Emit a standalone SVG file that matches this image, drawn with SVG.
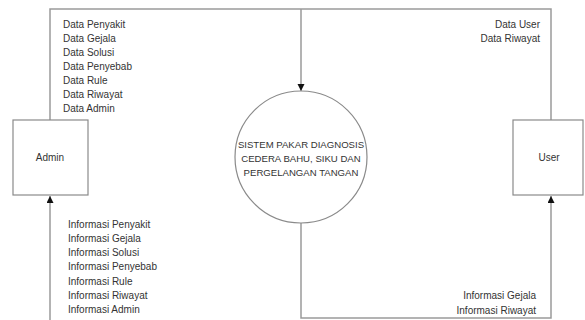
<svg xmlns="http://www.w3.org/2000/svg" width="585" height="320" viewBox="0 0 585 320">
<style>
.ln{fill:none;stroke:#9a9a9a;stroke-width:1.5}
.bx{fill:#fff;stroke:#8a8a8a;stroke-width:1.2}
.t{font-family:"Liberation Sans",Arial,sans-serif;font-size:10px;fill:#333}
.c{font-family:"Liberation Sans",Arial,sans-serif;font-size:9.6px;fill:#333;text-anchor:middle}
</style>
<defs>
<marker id="ah" markerWidth="7" markerHeight="10" refX="7" refY="3.5" orient="auto" markerUnits="userSpaceOnUse">
<path d="M0,0 L7,3.5 L0,7 z" fill="#111"/>
</marker>
</defs>
<rect width="585" height="320" fill="#fff"/>
<g id="connectors">
<polyline class="ln" points="50,120 50,9 551,9 551,120"/>
<line class="ln" x1="301" y1="9" x2="301" y2="91" marker-end="url(#ah)"/>
<polyline class="ln" points="301,223 301,318 551,318 551,196" marker-end="url(#ah)"/>
<line class="ln" x1="50" y1="325" x2="50" y2="196" marker-end="url(#ah)"/>
</g>
<g id="labels">
<text class="t" x="63" y="28">Data Penyakit</text>
<text class="t" x="63" y="42">Data Gejala</text>
<text class="t" x="63" y="56">Data Solusi</text>
<text class="t" x="63" y="70">Data Penyebab</text>
<text class="t" x="63" y="84">Data Rule</text>
<text class="t" x="63" y="98">Data Riwayat</text>
<text class="t" x="63" y="112">Data Admin</text>
<text class="t" x="540" y="28" text-anchor="end">Data User</text>
<text class="t" x="540" y="42" text-anchor="end">Data Riwayat</text>
<text class="t" x="68" y="228">Informasi Penyakit</text>
<text class="t" x="68" y="242">Informasi Gejala</text>
<text class="t" x="68" y="256">Informasi Solusi</text>
<text class="t" x="68" y="270">Informasi Penyebab</text>
<text class="t" x="68" y="285">Informasi Rule</text>
<text class="t" x="68" y="299">Informasi Riwayat</text>
<text class="t" x="68" y="313">Informasi Admin</text>
<text class="t" x="536" y="299" text-anchor="end">Informasi Gejala</text>
<text class="t" x="536" y="314" text-anchor="end">Informasi Riwayat</text>
</g>
<g id="admin">
<rect class="bx" x="13" y="120" width="75" height="75"/>
<text class="t" x="50" y="161" text-anchor="middle">Admin</text>
</g>
<g id="user">
<rect class="bx" x="513" y="120" width="70" height="75"/>
<text class="t" x="549" y="161" text-anchor="middle">User</text>
</g>
<g id="system">
<circle cx="301" cy="157" r="66" fill="#fff" stroke="#8a8a8a" stroke-width="1.2"/>
<text class="c" x="301" y="148">SISTEM PAKAR DIAGNOSIS</text>
<text class="c" x="301" y="162">CEDERA BAHU, SIKU DAN</text>
<text class="c" x="301" y="176">PERGELANGAN TANGAN</text>
</g>
</svg>
